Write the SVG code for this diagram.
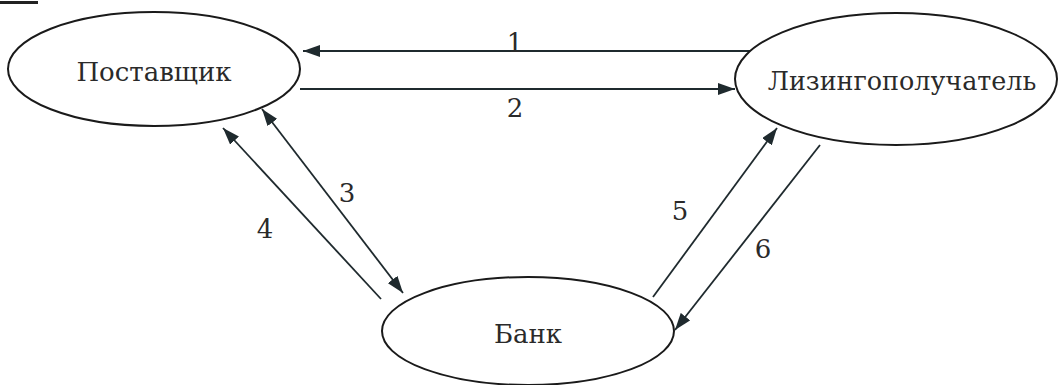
<svg xmlns="http://www.w3.org/2000/svg" width="1060" height="385" viewBox="0 0 1060 385">
<style>
.node{fill:#fff;stroke:#1a1a1a;stroke-width:2}
.lbl{font-family:'DejaVu Serif','Liberation Serif',serif;font-size:26px;fill:#2a2a2a;text-anchor:middle}
.num{font-family:'DejaVu Serif','Liberation Serif',serif;font-size:26px;fill:#2a2a2a;text-anchor:middle}
.edge{stroke:#1f2a2e;stroke-width:1.8;fill:none}
</style>
<defs>
<marker id="ah" viewBox="0 0 17 12" refX="17" refY="6" markerWidth="17" markerHeight="12" markerUnits="userSpaceOnUse" orient="auto-start-reverse">
<path d="M0,0 L17,6 L0,12 Z" fill="#1f2a2e"/>
</marker>
</defs>
<rect x="0" y="1" width="38" height="3" fill="#222"/>
<g id="connectors">
<line class="edge" x1="757" y1="51" x2="303" y2="51" marker-end="url(#ah)"/>
<line class="edge" x1="300" y1="89" x2="735" y2="89" marker-end="url(#ah)"/>
<line class="edge" x1="262" y1="109" x2="403" y2="293" marker-start="url(#ah)" marker-end="url(#ah)"/>
<line class="edge" x1="381" y1="299" x2="223" y2="128" marker-end="url(#ah)"/>
<line class="edge" x1="653" y1="297" x2="777" y2="128" marker-end="url(#ah)"/>
<line class="edge" x1="820" y1="145" x2="675" y2="330" marker-end="url(#ah)"/>
<text class="num" x="515" y="52">1</text>
<text class="num" x="515" y="117">2</text>
<text class="num" x="347" y="202">3</text>
<text class="num" x="265" y="238">4</text>
<text class="num" x="680" y="220">5</text>
<text class="num" x="763" y="258">6</text>
</g>
<g id="node-supplier">
<ellipse class="node" cx="154" cy="69" rx="146" ry="57"/>
<text class="lbl" x="154" y="81">Поставщик</text>
</g>
<g id="node-lessee">
<ellipse class="node" cx="896" cy="79" rx="161" ry="66"/>
<text class="lbl" x="902" y="90" style="font-size:25.4px">Лизингополучатель</text>
</g>
<g id="node-bank">
<ellipse class="node" cx="528" cy="331" rx="146" ry="54"/>
<text class="lbl" x="528" y="343">Банк</text>
</g>
</svg>
